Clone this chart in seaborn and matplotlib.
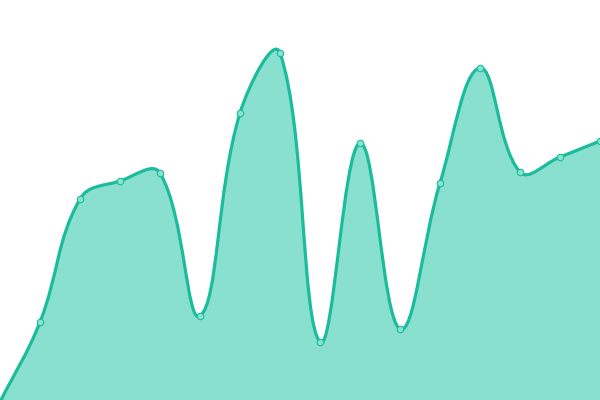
import numpy as np
import matplotlib
matplotlib.use("Agg")
import matplotlib.pyplot as plt
from matplotlib.path import Path
from matplotlib.patches import PathPatch
import seaborn as sns
import pandas as pd

# Données (hauteur en px depuis le bas)
positions = [0, 40, 80, 120, 160, 200, 240, 280, 320, 360, 400, 440, 480, 520, 560, 600]
values = [-2, 78, 201, 219, 227, 84, 287, 347, 58, 257, 71, 217, 332, 228, 243, 259]

line_color = "#1abc9c"
fill_color = "#8ae0cf"
tension = 0.4

sns.set_theme(style="white")
fig = plt.figure(figsize=(6, 4), dpi=100)
ax = fig.add_axes([0, 0, 1, 1])
ax.set_xlim(0, 600)
ax.set_ylim(0, 400)
ax.axis("off")


def spline_controls(xs, ys, t):
    # courbe façon Chart.js (tension 0.4), points de contrôle bornés à la zone
    n = len(xs)
    ctrl = []
    for i in range(n):
        p0 = (xs[max(i - 1, 0)], ys[max(i - 1, 0)])
        p1 = (xs[i], ys[i])
        p2 = (xs[min(i + 1, n - 1)], ys[min(i + 1, n - 1)])
        d01 = np.hypot(p1[0] - p0[0], p1[1] - p0[1])
        d12 = np.hypot(p2[0] - p1[0], p2[1] - p1[1])
        tot = d01 + d12
        s01 = d01 / tot if tot else 0
        s12 = d12 / tot if tot else 0
        fa, fb = t * s01, t * s12
        prev = (p1[0] - fa * (p2[0] - p0[0]), p1[1] - fa * (p2[1] - p0[1]))
        nxt = (p1[0] + fb * (p2[0] - p0[0]), p1[1] + fb * (p2[1] - p0[1]))
        prev = (np.clip(prev[0], 0, 600), np.clip(prev[1], -5, 400))
        nxt = (np.clip(nxt[0], 0, 600), np.clip(nxt[1], -5, 400))
        ctrl.append((prev, nxt))
    return ctrl


ctrl = spline_controls(positions, values, tension)
verts = [(positions[0], values[0])]
codes = [Path.MOVETO]
for i in range(1, len(positions)):
    verts += [ctrl[i - 1][1], ctrl[i][0], (positions[i], values[i])]
    codes += [Path.CURVE4] * 3

fill_verts = verts + [(positions[-1], -5), (positions[0], -5), (positions[0], values[0])]
fill_codes = codes + [Path.LINETO, Path.LINETO, Path.CLOSEPOLY]

ax.add_patch(PathPatch(Path(fill_verts, fill_codes), facecolor=fill_color, edgecolor="none", zorder=1))
ax.add_patch(PathPatch(Path(verts, codes), facecolor="none", edgecolor=line_color, lw=2.3, zorder=2))

df = pd.DataFrame({"x": positions, "y": values})
sns.scatterplot(data=df, x="x", y="y", ax=ax, s=22, color="#8ce0d0",
                edgecolor=line_color, linewidth=0.8, zorder=3, clip_on=True)
ax.axis("off")

fig.savefig("out.png", dpi=100)
